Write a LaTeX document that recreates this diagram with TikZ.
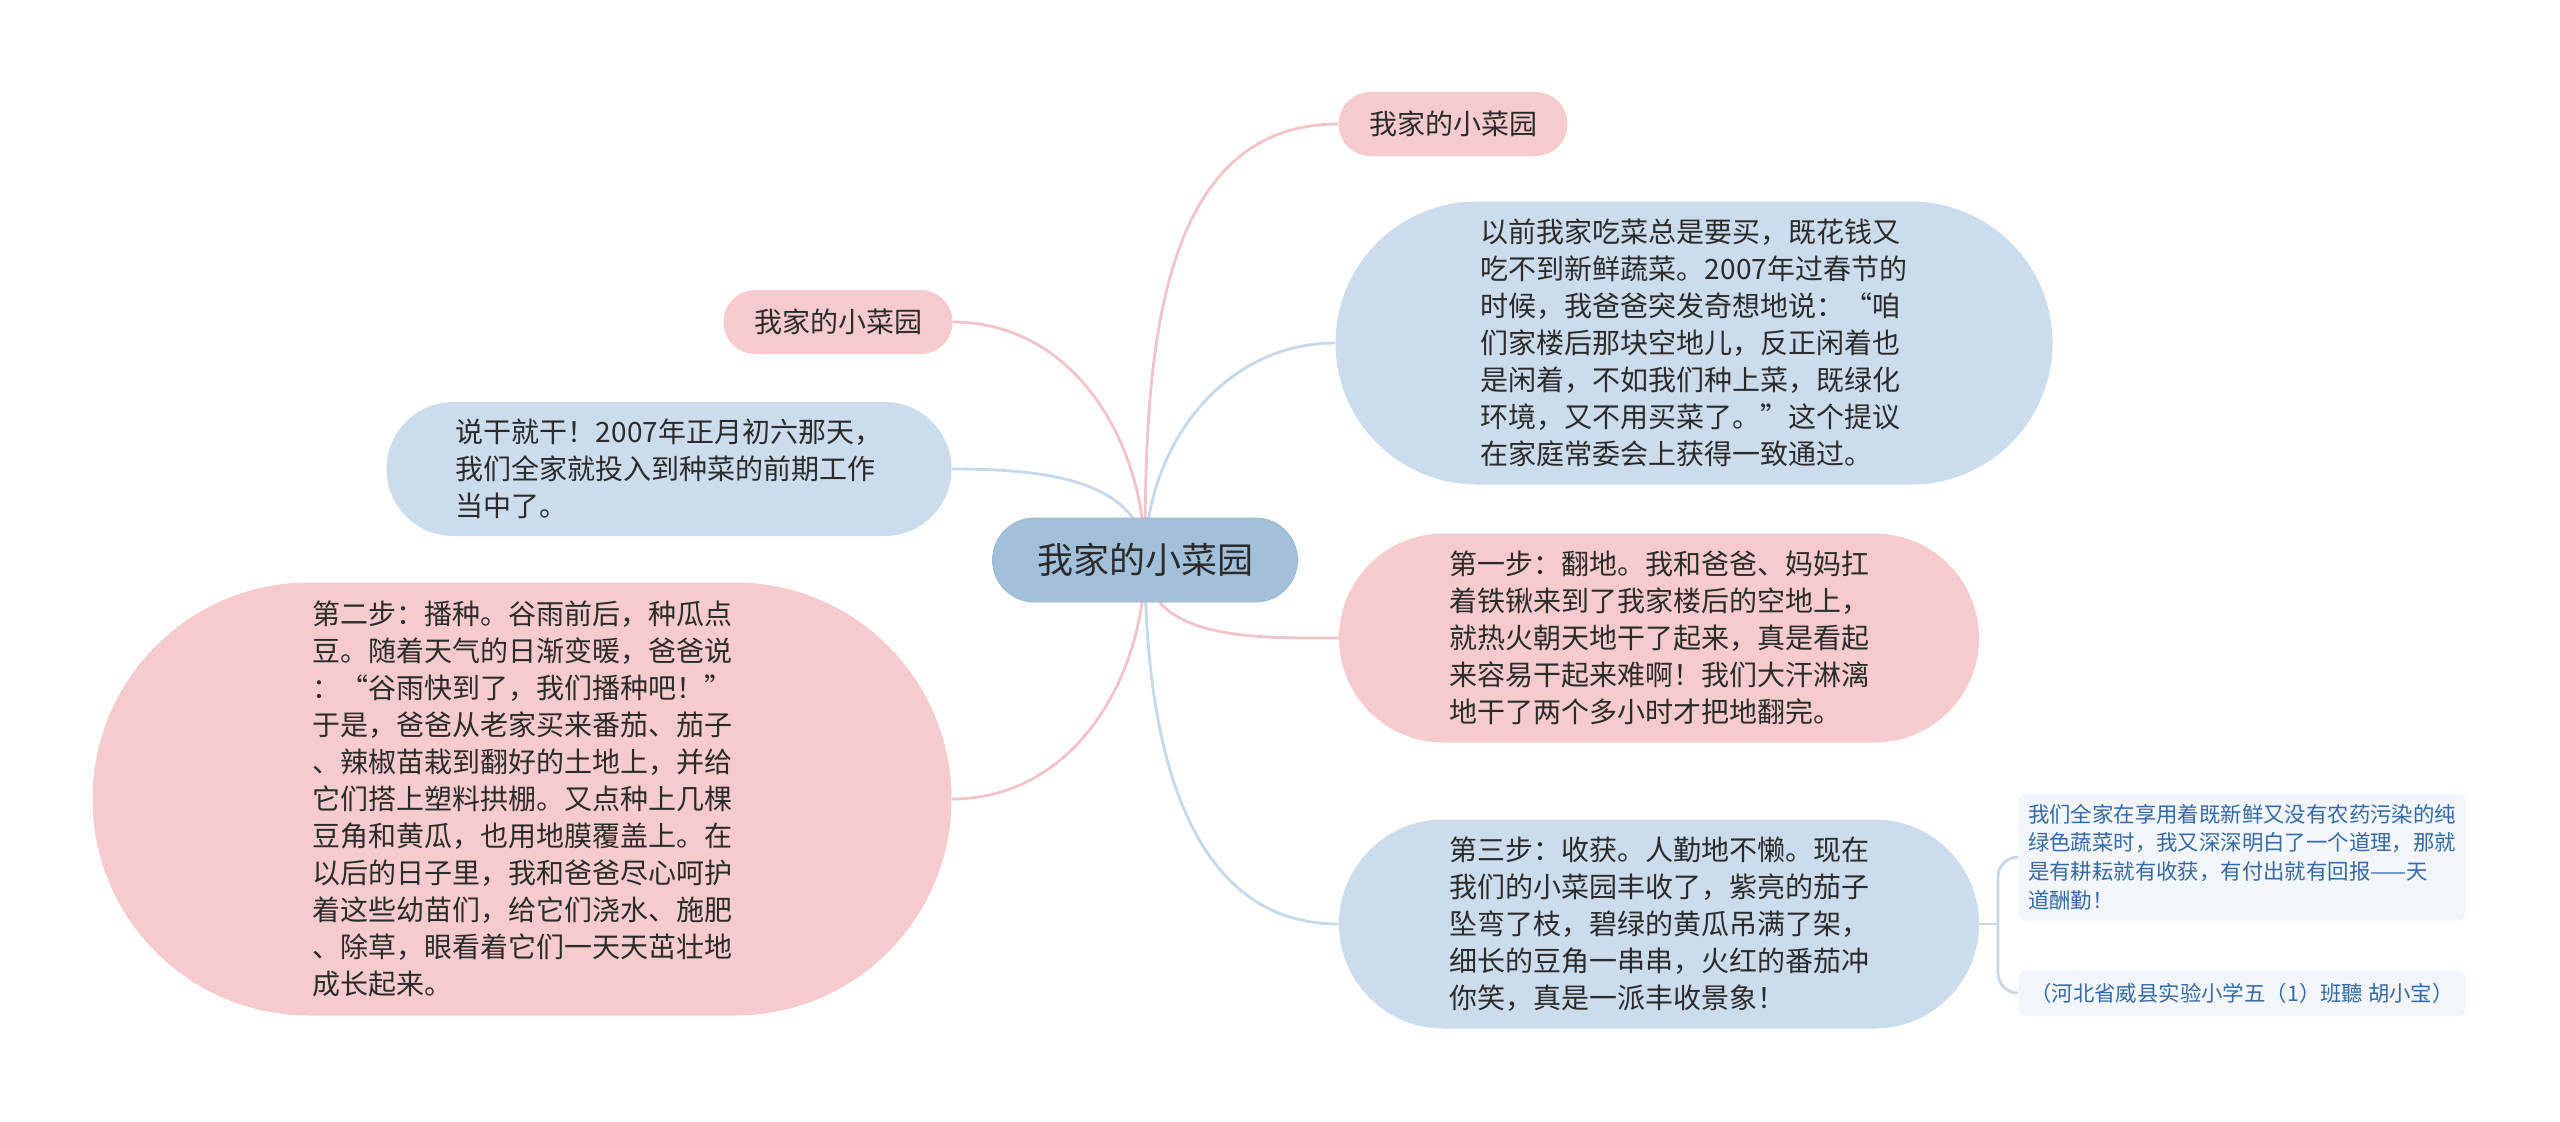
\documentclass[tikz,border=0pt]{standalone}
\usepackage{fontspec}
\setmainfont{Noto Sans CJK SC}
\usetikzlibrary{backgrounds}
\definecolor{rootblue}{HTML}{A3C0DB}
\definecolor{topicblue}{HTML}{CBDCEC}
\definecolor{topicpink}{HTML}{F5CBCE}
\definecolor{linkblue}{HTML}{C6D8E9}
\definecolor{linkpink}{HTML}{F0C4C9}
\definecolor{linkleaf}{HTML}{C9D6E3}
\definecolor{leaffill}{HTML}{F2F6FB}
\definecolor{leaftext}{HTML}{356AA6}
\definecolor{inktext}{HTML}{2B2B2B}

\begin{document}
\begin{tikzpicture}[x=0.5pt, y=-0.5pt, every node/.style={text=inktext, inner sep=0pt, align=left}, blob/.style 2 args={minimum width=#1*0.5pt, minimum height=#2*0.5pt, rounded corners=#2*0.25pt, font=\fontsize{14}{18.5}\selectfont}, pinkbox/.style={fill=topicpink}, bluebox/.style={fill=topicblue}, title/.style={blob={229}{64}, fill=topicpink, font=\fontsize{14}{18}\selectfont}, leaf/.style={fill=leaffill, text=leaftext, minimum width=223.5pt, rounded corners=4pt, font=\fontsize{10.7}{14.3}\selectfont}, link/.style={line width=1.4pt}]
\useasboundingbox (0,0) rectangle (2560,1121);
% centre
\node[blob={305}{84}, fill=rootblue, draw=rootblue!95!black, line width=0.4pt, font=\fontsize{18}{22}\selectfont] (root) at (1145,560) {我家的小菜园};
% right side
\node[title] (rtitle) at (1453,124) {我家的小菜园};
\node[blob={717}{283}, bluebox] (before) at (1694,343) {以前我家吃菜总是要买，既花钱又\\吃不到新鲜蔬菜。2007年过春节的\\时候，我爸爸突发奇想地说：“咱\\们家楼后那块空地儿，反正闲着也\\是闲着，不如我们种上菜，既绿化\\环境，又不用买菜了。”这个提议\\在家庭常委会上获得一致通过。};
\node[blob={640}{209}, pinkbox] (step1) at (1659,638) {第一步：翻地。我和爸爸、妈妈扛\\着铁锹来到了我家楼后的空地上，\\就热火朝天地干了起来，真是看起\\来容易干起来难啊！我们大汗淋漓\\地干了两个多小时才把地翻完。};
\node[blob={640}{209}, bluebox] (step3) at (1659,924) {第三步：收获。人勤地不懒。现在\\我们的小菜园丰收了，紫亮的茄子\\坠弯了枝，碧绿的黄瓜吊满了架，\\细长的豆角一串串，火红的番茄冲\\你笑，真是一派丰收景象！};
\node[leaf, minimum height=63.5pt] (moral) at (2242,857) {我们全家在享用着既新鲜又没有农药污染的纯\\绿色蔬菜时，我又深深明白了一个道理，那就\\是有耕耘就有收获，有付出就有回报——天\\道酬勤！};
\node[leaf, minimum height=23pt] (author) at (2242,993) {（河北省威县实验小学五（1）班聽 胡小宝）};
\coordinate (fork) at (1998,924);
% left side
\node[title] (ltitle) at (838,322) {我家的小菜园};
\node[blob={565}{134}, bluebox] (start) at (669,469) {说干就干！2007年正月初六那天，\\我们全家就投入到种菜的前期工作\\当中了。};
\node[blob={859}{433}, pinkbox] (step2) at (522,799) {第二步：播种。谷雨前后，种瓜点\\豆。随着天气的日渐变暖，爸爸说\\：“谷雨快到了，我们播种吧！”\\于是，爸爸从老家买来番茄、茄子\\、辣椒苗栽到翻好的土地上，并给\\它们搭上塑料拱棚。又点种上几棵\\豆角和黄瓜，也用地膜覆盖上。在\\以后的日子里，我和爸爸尽心呵护\\着这些幼苗们，给它们浇水、施肥\\、除草，眼看着它们一天天茁壮地\\成长起来。};
\begin{scope}[on background layer]
\fill[white] (0,0) rectangle (2560,1121);
\draw[link, linkpink] (root.center) to[out=90, in=180] (rtitle.west);
\draw[link, linkblue] (root.center) to[out=90, in=180] (before.west);
\draw[link, linkpink] (root.center) to[out=-90, in=180] (step1.west);
\draw[link, linkblue] (root.center) to[out=-90, in=180] (step3.west);
\draw[link, linkpink] (root.center) to[out=90, in=0] (ltitle.east);
\draw[link, linkblue] (root.center) to[out=90, in=0] (start.east);
\draw[link, linkpink] (root.center) to[out=-90, in=0] (step2.east);
\draw[link, linkleaf] (step3.east) -- (fork);
\draw[link, linkleaf, rounded corners=10pt] (fork) |- (moral.west);
\draw[link, linkleaf, rounded corners=10pt] (fork) |- (author.west);
\end{scope}
\end{tikzpicture}
\end{document}
